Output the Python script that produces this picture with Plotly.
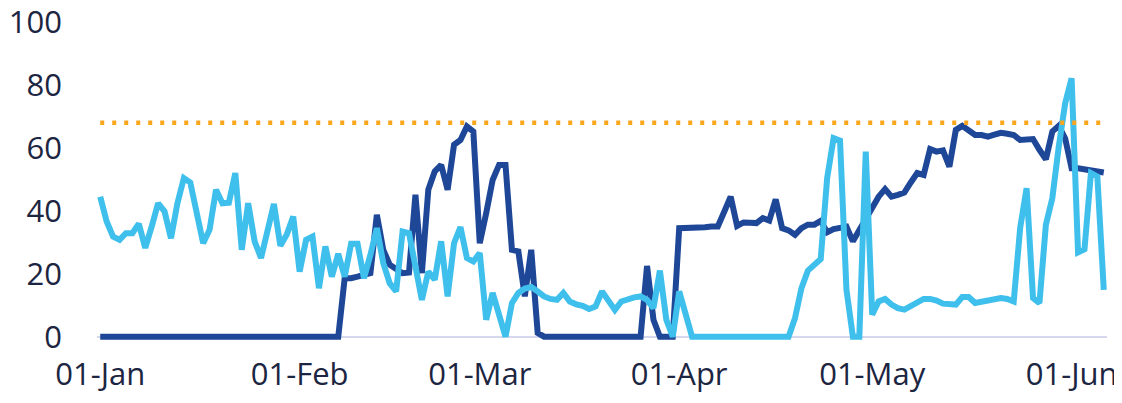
import plotly.graph_objects as go
import pandas as pd

dates = pd.date_range("2023-01-01", "2023-06-06", freq="D")

dark_series = [
    0, 0, 0, 0, 0, 0, 0, 0, 0, 0,
    0, 0, 0, 0, 0, 0, 0, 0, 0, 0,
    0, 0, 0, 0, 0, 0, 0, 0, 0, 0,
    0, 0, 0, 0, 0, 0, 0, 0, 18.6, 18.6,
    19.1, 19.6, 20.2, 38.7, 27.6, 22.9, 21.3, 20.2, 20.4, 45.1,
    20.2, 46.7, 52.5, 54.6, 46.7, 61, 62.5, 66.8, 65.2, 29.7,
    39.3, 49.8, 54.6, 54.6, 27.6, 27.1, 12.8, 27.6, 1.2, 0,
    0, 0, 0, 0, 0, 0, 0, 0, 0, 0,
    0, 0, 0, 0, 0, 22.5, 5.4, 0, 0, 0,
    34.5, 34.5, 34.6, 34.8, 34.8, 35, 35, 39.7, 44.5, 35.2,
    36.3, 36.2, 36.1, 37.7, 36.9, 43.6, 34.5, 33.8, 32.4, 34.5,
    35.6, 35.6, 36.8, 33.2, 34.2, 34.6, 35, 30.3, 34, 38,
    41.5, 44.5, 46.9, 44.5, 45.1, 45.8, 49, 52, 51.4, 59.6,
    58.8, 59.2, 54, 65.7, 67, 65.7, 64.1, 64.1, 63.6, 64.2,
    64.8, 64.5, 64.1, 62.5, 62.7, 62.8, 59.4, 56.4, 65.2, 67,
    63, 53.5, 53.5, 53.2, 53, 52.5, 52.2,
]

light_series = [
    44.5, 36.6, 31.8, 30.8, 32.9, 32.9, 35.9, 28.2, 35, 42.4,
    39.8, 31.3, 42.4, 50.4, 49, 39, 29.7, 34, 46.7, 42.4,
    42.6, 52, 27.6, 42.4, 30.3, 25, 34, 42.2, 28.9, 32.5,
    38.2, 20.7, 30.8, 31.8, 15.4, 28.7, 19.1, 26.3, 19.1, 29.5,
    29.5, 18.6, 26, 34.5, 23.4, 17, 14.4, 33.4, 32.9, 22.3,
    11.7, 20.7, 18.1, 30.3, 12.8, 29.7, 34.8, 25, 23.9, 26.6,
    5.4, 13.9, 6.4, 0, 10.7, 13.9, 15.3, 15.8, 14.4, 12.8,
    12, 11.7, 13.9, 11.2, 10.3, 9.8, 8.8, 9.6, 14.4, 11,
    8.5, 11.2, 12, 12.5, 12.8, 11.7, 9.1, 21, 5.4, 0,
    14.4, 6.4, 0, 0, 0, 0, 0, 0, 0, 0,
    0, 0, 0, 0, 0, 0, 0, 0, 5.9, 15.4,
    21, 22.9, 24.7, 50.4, 63.1, 62.3, 14.9, 0, 0, 58.8,
    7, 11.2, 12, 10.2, 9.1, 8.6, 9.8, 11, 12, 12,
    11.5, 10.5, 10.5, 10.2, 12.6, 12.6, 10.7, 11.2, 11.5, 11.8,
    12.3, 12, 11.2, 34.5, 47.2, 12.3, 10.7, 35.6, 44, 60.4,
    74.2, 82.1, 26.8, 27.8, 52, 50.9, 14.9,
]

target = 68
tick_dates = ["2023-01-01", "2023-02-01", "2023-03-01", "2023-04-01", "2023-05-01", "2023-06-01"]
tick_labels = ["01-Jan", "01-Feb", "01-Mar", "01-Apr", "01-May", "01-Jun"]

fig = go.Figure()
fig.add_trace(go.Scatter(x=dates, y=dark_series, mode="lines",
                         line=dict(color="#1f4798", width=6)))
fig.add_trace(go.Scatter(x=dates, y=light_series, mode="lines",
                         line=dict(color="#3fbfec", width=6)))
fig.add_trace(go.Scatter(x=[dates[0], dates[-1]], y=[target, target], mode="lines",
                         line=dict(color="#fba61c", width=4.5, dash="4px,8px")))

# the page body adds an 8px offset, so margins are shifted to compensate
fig.update_layout(
    width=1122, height=403,
    margin=dict(l=89, r=23, t=14, b=68),
    plot_bgcolor="white", paper_bgcolor="white",
    showlegend=False,
    font=dict(family="Open Sans", size=31, color="#1c2541"),
    xaxis=dict(
        range=["2022-12-31 12:00", "2023-06-06 12:00"],
        tickmode="array", tickvals=tick_dates, ticktext=tick_labels,
        showgrid=False, zeroline=False, showline=False,
        ticklabelstandoff=10, automargin=False, ticklabeloverflow="allow",
    ),
    yaxis=dict(
        range=[-2, 100], tickvals=[0, 20, 40, 60, 80, 100],
        showgrid=False, zeroline=True, zerolinecolor="#d5d8ec", zerolinewidth=2,
        showline=False, ticklabelstandoff=34, automargin=False,
        ticklabeloverflow="allow",
    ),
)

fig.write_html("out.html")
